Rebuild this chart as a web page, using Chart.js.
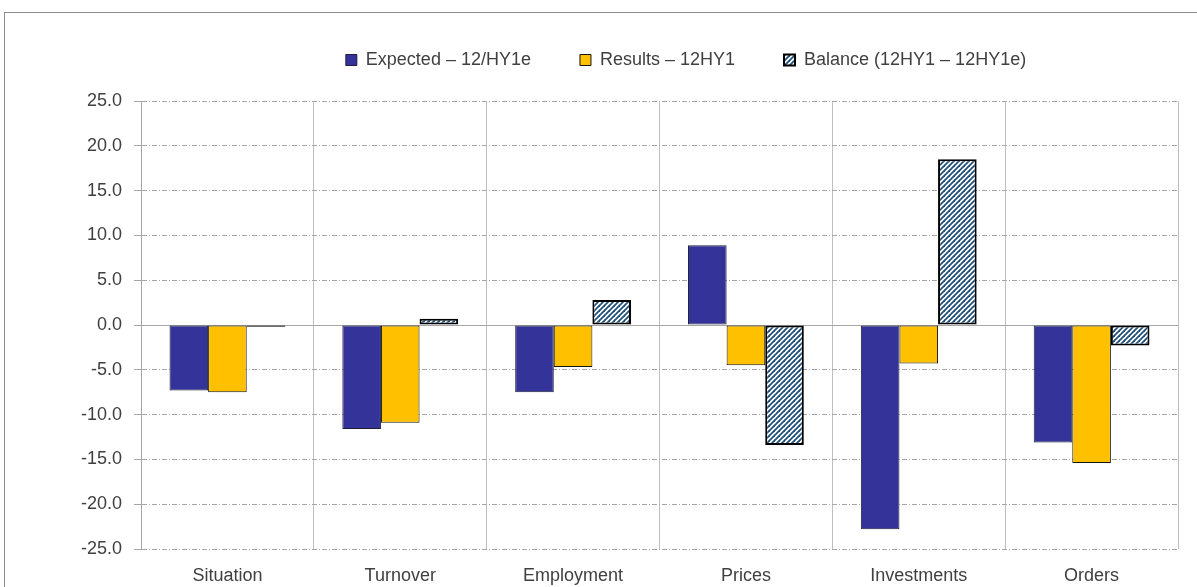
<!DOCTYPE html>
<html>
<head>
<meta charset="utf-8">
<script src="https://cdn.jsdelivr.net/npm/chart.js@4"></script>
<style>
  html, body { margin: 0; padding: 0; background: #fff; overflow: hidden; }
  #frame { position: absolute; left: 4px; top: 12px; width: 1400px; height: 800px; border: 1.5px solid #8c8c8c; box-sizing: border-box; }
  #c { position: absolute; left: 0; top: 0; }
</style>
</head>
<body>
<div id="frame"></div>
<canvas id="c" width="1197" height="587"></canvas>
<script>
const categories = ['Situation', 'Turnover', 'Employment', 'Prices', 'Investments', 'Orders'];
const seriesNames = ['Expected \u2013 12/HY1e', 'Results \u2013 12HY1', 'Balance (12HY1 \u2013 12HY1e)'];
const expectedValues = [-7.3, -11.6, -7.5, 8.9, -22.8, -13.1];
const resultsValues = [-7.5, -10.9, -4.7, -4.5, -4.3, -15.4];
const balanceValues = [-0.2, 0.7, 2.8, -13.4, 18.5, -2.3];
const yTickMin = -25, yTickMax = 25, yTickStep = 5;

function makeHatch() {
  const s = 5;
  const cv = document.createElement('canvas');
  cv.width = s; cv.height = s;
  const g = cv.getContext('2d');
  g.fillStyle = '#ffffff';
  g.fillRect(0, 0, s, s);
  g.strokeStyle = '#1f4e79';
  g.lineWidth = 1.8;
  for (const o of [-s, 0, s]) {
    g.beginPath();
    g.moveTo(o - 1, s + 1);
    g.lineTo(o + s + 1, -1);
    g.stroke();
  }
  return g.createPattern(cv, 'repeat');
}
const hatch = makeHatch();

const FONT = { family: '"Liberation Sans", Arial, sans-serif', size: 18 };
const TEXT = '#404040';
const GRID = '#a6a6a6';

const layoutPlugin = {
  id: 'layoutTweak',
  beforeLayout(chart) {
    const lg = chart.legend;
    if (lg && !lg._patched) {
      const orig = lg.fit;
      lg.fit = function () { orig.call(this); this.height = 99; };
      lg._patched = true;
    }
  },
  afterLayout(chart) {
    const lg = chart.legend;
    if (!lg) return;
    const target = 686;
    const shift = target - (lg.left + lg.right) / 2;
    lg.left += shift;
    lg.right += shift;
  }
};

new Chart(document.getElementById('c'), {
  type: 'bar',
  data: {
    labels: categories,
    datasets: [
      { label: seriesNames[0], data: expectedValues, backgroundColor: '#333399', borderColor: '#1f1f3a', borderWidth: 1, borderSkipped: false },
      { label: seriesNames[1], data: resultsValues, backgroundColor: '#ffc000', borderColor: '#141414', borderWidth: 1, borderSkipped: false },
      { label: seriesNames[2], data: balanceValues, backgroundColor: hatch, borderColor: '#000000', borderWidth: 2, borderSkipped: false }
    ]
  },
  options: {
    responsive: false,
    animation: false,
    layout: { padding: { left: 0, right: 19, top: 2, bottom: 0 } },
    datasets: { bar: { categoryPercentage: 0.67, barPercentage: 1.0 } },
    plugins: {
      legend: {
        position: 'top',
        labels: { font: FONT, color: TEXT, boxWidth: 11, boxHeight: 11, padding: 49 }
      },
      tooltip: { enabled: false }
    },
    scales: {
      x: {
        offset: true,
        grid: { display: true, offset: true, color: '#bfbfbf', lineWidth: 1, drawTicks: false },
        border: { display: false },
        ticks: { font: FONT, color: TEXT, padding: 16, maxRotation: 0 },
        afterFit(scale) { scale.height = 38; }
      },
      y: {
        min: yTickMin,
        max: yTickMax,
        ticks: {
          stepSize: yTickStep,
          font: FONT,
          color: TEXT,
          padding: 12,
          callback: (v) => Number(v).toFixed(1)
        },
        grid: {
          color: GRID,
          lineWidth: 1,
          tickLength: 7,
          tickColor: GRID
        },
        border: {
          display: true,
          color: GRID,
          width: 1,
          dash: (ctx) => (ctx.type === 'tick' && ctx.tick && ctx.tick.value !== 0) ? [5, 2, 1, 2] : []
        },
        afterFit(scale) { scale.width = 141; }
      }
    }
  },
  plugins: [layoutPlugin]
});
</script>
</body>
</html>
